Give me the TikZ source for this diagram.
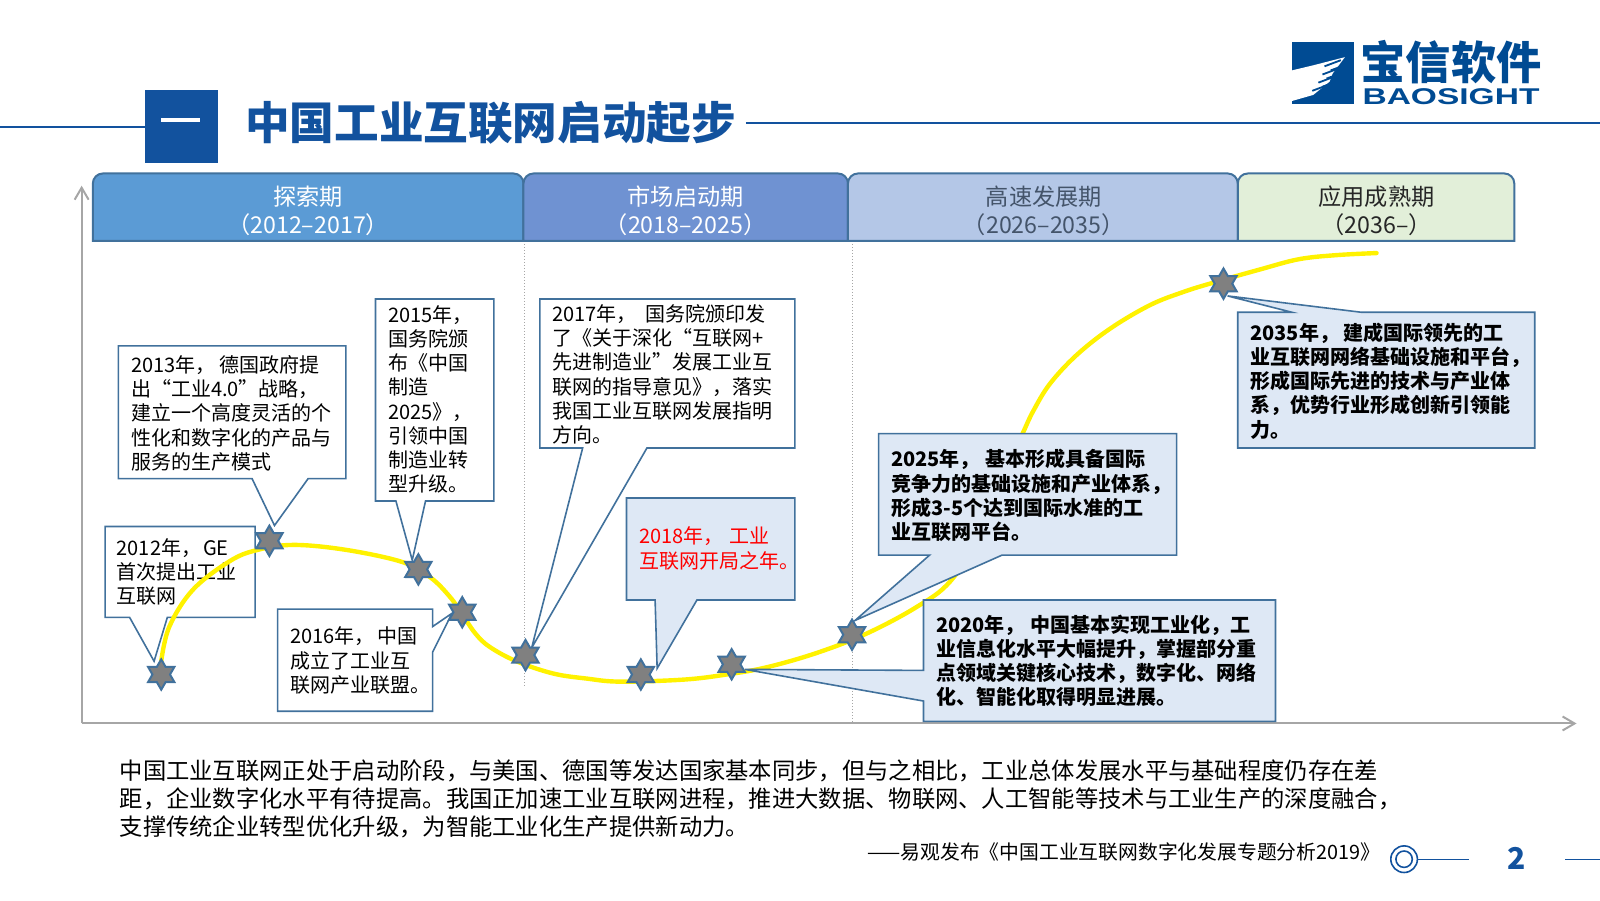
\documentclass[tikz,border=0pt]{standalone}
\usepackage{fontspec}
\setmainfont{Noto Sans CJK SC}
\newfontfamily\logofont{Liberation Sans}
\usetikzlibrary{shapes.geometric,arrows.meta}
\definecolor{baoblue}{HTML}{12529E}
\definecolor{logoblue}{HTML}{004B93}
\definecolor{edgeblue}{HTML}{41719C}
\definecolor{paleblue}{HTML}{DEE8F5}
\definecolor{axisgray}{HTML}{A6A6A6}
\definecolor{phaseblueA}{HTML}{5B9BD5}
\definecolor{phaseblueB}{HTML}{6F92D2}
\definecolor{phaseblueC}{HTML}{B4C7E7}
\definecolor{phasegreen}{HTML}{E2EFD9}
\definecolor{phaseslate}{HTML}{44546A}
\tikzset{
	headbox/.style={draw=edgeblue,line width=1pt,rounded corners=5pt},
	headtext/.style={inner sep=0pt,align=center,font=\fontsize{11.6}{14}\selectfont},
	callwhite/.style={draw=edgeblue,line width=0.8pt,fill=white,line join=miter},
	callpale/.style={draw=edgeblue,line width=0.8pt,fill=paleblue,line join=miter},
	calltext/.style={anchor=north west,inner sep=0pt,align=left,font=\fontsize{10}{12.1}\selectfont},
	boldtext/.style={calltext,font=\fontsize{10}{12.1}\selectfont\bfseries},
	mark6/.style={star,star points=6,star point ratio=1.73,minimum size=15.2pt,inner sep=0pt,draw=edgeblue,line width=1pt,fill=gray},
	curveline/.style={draw=yellow,line width=2.2pt,line cap=round}
}
\begin{document}
\begin{tikzpicture}[x=0.5102pt,y=-0.5102pt]
	\useasboundingbox (0,0) rectangle (1568,882);
	
	% title bar
	\draw[baoblue,line width=1pt] (0,124) -- (142,124);
	\draw[baoblue,line width=1pt] (731,121) -- (1568,121);
	\fill[baoblue] (142,88) rectangle (214,160);
	\fill[white] (158,116) rectangle (196,120);
	\node[anchor=west,inner sep=0pt,text=baoblue,font=\fontsize{22.3}{26}\selectfont\bfseries] (titletext) at (240,120) {中国工业互联网启动起步};
	
	% logo
	\fill[logoblue] (1266,41) rectangle (1327,102);
	\fill[white] (1266,69) -- (1287,64) -- (1318,56) -- (1306,72) -- (1303,80) -- (1287,93) -- (1266,99) -- cycle;
	\foreach \ya/\xa in {62/1298,66/1304,70/1296,74/1300,78/1292,82/1296,86/1286}{
		\draw[logoblue,line width=0.9pt] (\xa,\ya+3) -- (\xa+16,\ya-3);
	}
	\node[inner sep=0pt,text=logoblue,font=\fontsize{22.6}{26}\selectfont\bfseries] (logocn) at (1422,61) {宝信软件};
	\node[inner sep=0pt,text=logoblue,xscale=1.47,font=\logofont\fontsize{11.4}{13}\selectfont\bfseries] (logoen) at (1422,95) {BAOSIGHT};
	
	% axes
	\coordinate (origin) at (80,709);
	\coordinate (xend) at (1545,709);
	\coordinate (yend) at (80,182);
	\draw[axisgray,line width=1pt,-{Straight Barb[length=6pt,width=7pt]}] (origin) -- (xend);
	\draw[axisgray,line width=1pt,-{Straight Barb[length=6pt,width=7pt]}] (origin) -- (yend);
	
	% phase separators
	\draw[axisgray,line width=0.5pt,densely dotted] (514,236) -- (514,672);
	\draw[axisgray,line width=0.5pt,densely dotted] (835,236) -- (835,708);
	
	% phase headers
	\draw[headbox,fill=phaseblueA] (91,236) [sharp corners] -- (91,190) [rounded corners=5pt] -- (91,170) -- (513,170) [sharp corners] -- (513,236) -- cycle;
	\draw[headbox,fill=phaseblueB] (513,236) [sharp corners] -- (513,190) [rounded corners=5pt] -- (513,170) -- (831,170) [sharp corners] -- (831,236) -- cycle;
	\draw[headbox,fill=phaseblueC] (831,236) [sharp corners] -- (831,190) [rounded corners=5pt] -- (831,170) -- (1213,170) [sharp corners] -- (1213,236) -- cycle;
	\draw[headbox,fill=phasegreen] (1213,236) [sharp corners] -- (1213,190) [rounded corners=5pt] -- (1213,170) -- (1484,170) [sharp corners] -- (1484,236) -- cycle;
	\node[headtext,text=white] (phaseA) at (302,207) {探索期\\（2012–2017）};
	\node[headtext,text=white] (phaseB) at (672,207) {市场启动期\\（2018–2025）};
	\node[headtext,text=phaseslate] (phaseC) at (1023,207) {高速发展期\\（2026–2035）};
	\node[headtext,text=black!85] (phaseD) at (1349,207) {应用成熟期\\（2036–）};
	
	% 2012 box lies under the curve
	\coordinate (tipA) at (151,648);
	\draw[callwhite,fill=none] (103,516) -- (250,516) -- (250,605) -- (164,605) -- (tipA) -- (127,605) -- (103,605) -- cycle;
	\node[calltext] (textA) at (114,527) {2012年，\hspace{1pt}GE\\首次提出工业\\互联网};
	
	% development curve
	\draw[curveline] plot[smooth,tension=0.6] coordinates {(158,648) (166,614) (189,578) (225,550) (252,539) (288,534) (340,539) (395,551) (422,566) (441,585) (453,602) (466,621) (480,634) (506,648) (542,660) (575,665) (608,668) (670,666) (712,661) (751,654) (800,640) (849,621) (898,595) (931,570) (960,525) (982,470) (1003,423) (1013,402) (1029,376) (1055,348) (1088,322) (1127,299) (1160,286) (1189,277) (1235,264) (1273,254) (1310,250) (1349,248)};
	
	% callouts
	\coordinate (tipB) at (269,515);
	\draw[callwhite] (116,339) -- (339,339) -- (339,469) -- (302,469) -- (tipB) -- (247,469) -- (116,469) -- cycle;
	\node[calltext] (textB) at (128,348) {2013年，\hspace{2pt}德国政府提\\出“工业4.0”战略，\\建立一个高度灵活的个\\性化和数字化的产品与\\服务的生产模式};
	
	\coordinate (tipC) at (404,549);
	\draw[callwhite] (368,293) -- (484,293) -- (484,491) -- (417,491) -- (tipC) -- (388,491) -- (368,491) -- cycle;
	\node[calltext] (textC) at (380,299) {2015年，\\国务院颁\\布《中国\\制造\\2025》，\\引领中国\\制造业转\\型升级。};
	
	\coordinate (tipD) at (443,601);
	\draw[callwhite] (272,597) -- (424,597) -- (424,614) -- (tipD) -- (424,639) -- (424,697) -- (272,697) -- cycle;
	\node[calltext] (textD) at (284,614) {2016年，\hspace{1.5pt}中国\\成立了工业互\\联网产业联盟。};
	
	\coordinate (tipE) at (521,635);
	\draw[callwhite] (529,293) -- (779,293) -- (779,439) -- (634,439) -- (tipE) -- (571,439) -- (529,439) -- cycle;
	\node[calltext] (textE) at (541,298) {2017年，\hspace{4.5pt}国务院颁印发\\了《关于深化“互联网+\\先进制造业”发展工业互\\联网的指导意见》，落实\\我国工业互联网发展指明\\方向。};
	
	\coordinate (tipF) at (644,655);
	\draw[callpale] (614,488) -- (779,488) -- (779,588) -- (683,588) -- (tipF) -- (642,588) -- (614,588) -- cycle;
	\node[calltext,text=red] (textF) at (626,516) {2018年，\hspace{3pt}工业\\互联网开局之年。};
	
	\coordinate (tipG) at (730,656);
	\draw[callpale] (905,588) -- (1250,588) -- (1250,707) -- (905,707) -- (905,687) -- (tipG) -- (905,657) -- cycle;
	\node[boldtext] (textG) at (917,602) {2020年，\hspace{3pt}中国基本实现工业化，工\\业信息化水平大幅提升，掌握部分重\\点领域关键核心技术，数字化、网络\\化、智能化取得明显进展。};
	
	\coordinate (tipH) at (838,608);
	\draw[callpale] (861,425) -- (1153,425) -- (1153,544) -- (982,544) -- (tipH) -- (911,544) -- (861,544) -- cycle;
	\node[boldtext] (textH) at (873,440) {2025年，\hspace{3pt}基本形成具备国际\\竞争力的基础设施和产业体系，\\形成3-5个达到国际水准的工\\业互联网平台。};
	
	\coordinate (tipI) at (1203,290);
	\draw[callpale] (1213,306) -- (1266,306) -- (tipI) -- (1334,306) -- (1504,306) -- (1504,439) -- (1213,439) -- cycle;
	\node[boldtext] (textI) at (1225,316) {2035年，\hspace{2pt}建成国际领先的工\\业互联网网络基础设施和平台，\\形成国际先进的技术与产业体\\系，优势行业形成创新引领能\\力。};
	
	% milestones
	\foreach \name/\xx/\yy in {mA/158/661,mB/264/530,mC/410/558,mD/453/600,mE/515/642,mF/628/661,mG/717/651,mH/835/622,mI/1199/278}{
		\node[mark6] (\name) at (\xx,\yy) {};
	}
	
	% summary
	\node[anchor=north west,inner sep=0pt,align=left,font=\fontsize{11.65}{14}\selectfont] (summary) at (117,744) {中国工业互联网正处于启动阶段，与美国、德国等发达国家基本同步，但与之相比，工业总体发展水平与基础程度仍存在差\\距，企业数字化水平有待提高。我国正加速工业互联网进程，推进大数据、物联网、人工智能等技术与工业生产的深度融合，\\支撑传统企业转型优化升级，为智能工业化生产提供新动力。};
	\node[anchor=east,inner sep=0pt,font=\fontsize{9.9}{12}\selectfont] (source) at (1353,835) {——易观发布《中国工业互联网数字化发展专题分析2019》};
	
	% page number
	\node[circle,draw=baoblue,line width=0.8pt,minimum size=13.3pt,inner sep=0pt] (pageouter) at (1376,842) {};
	\node[circle,draw=baoblue,line width=0.8pt,minimum size=8.2pt,inner sep=0pt] (pageinner) at (1376,842) {};
	\coordinate (pageend) at (1440,842);
	\coordinate (pagestub) at (1534,842);
	\coordinate (pagestubend) at (1568,842);
	\draw[baoblue,line width=0.7pt] (pageouter) -- (pageend);
	\draw[baoblue,line width=0.7pt] (pagestub) -- (pagestubend);
	\node[inner sep=0pt,text=baoblue,font=\fontsize{15}{16}\selectfont\bfseries] (pagenum) at (1486,841) {2};
\end{tikzpicture}
\end{document}
